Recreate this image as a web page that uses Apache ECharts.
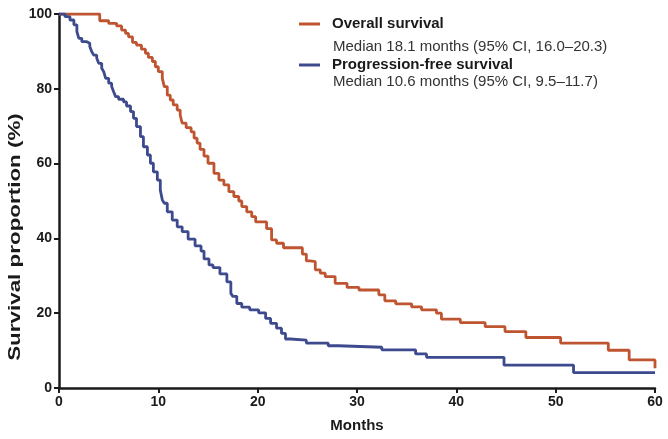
<!DOCTYPE html>
<html>
<head>
<meta charset="utf-8">
<script src="https://cdn.jsdelivr.net/npm/echarts@6/dist/echarts.min.js"></script>
<style>
  html, body { margin: 0; padding: 0; background: #fff; }
  #chart { width: 668px; height: 439px; }
</style>
</head>
<body>
<div id="chart"></div>
<script>
// Overall survival (Kaplan–Meier steps): month, survival %
const osMonths = [0, 4.1, 5.0, 5.8, 6.3, 6.7, 7.0, 7.4, 7.8, 8.3, 8.7, 9.0, 9.4, 9.7, 10.0, 10.4, 10.6, 10.9, 11.2, 11.5, 11.9, 12.2, 12.4, 12.8, 13.3, 13.6, 13.9, 14.2, 14.6, 15.0, 15.6, 16.1, 16.6, 17.1, 17.6, 18.1, 18.4, 18.9, 19.4, 19.8, 20.9, 21.4, 21.9, 22.6, 24.5, 24.9, 25.3, 25.8, 26.3, 26.8, 27.8, 29.0, 30.2, 32.2, 32.8, 33.9, 35.5, 36.5, 38.0, 38.5, 40.4, 42.9, 44.9, 47.0, 50.5, 55.3, 57.4, 60];
const osSurvival = [100, 98.2, 97.5, 96.8, 95.7, 94.8, 93.9, 92.4, 91.7, 90.6, 89.5, 88.4, 87.3, 85.9, 84.6, 82.8, 80.6, 78.3, 77.0, 75.7, 74.3, 73.0, 70.8, 69.6, 68.5, 66.8, 65.5, 63.8, 62.0, 60.1, 57.4, 55.6, 54.3, 52.5, 51.2, 50.0, 48.5, 47.1, 45.8, 44.4, 42.6, 39.6, 38.7, 37.5, 35.8, 34.0, 33.8, 31.6, 30.7, 29.8, 28.0, 26.9, 26.2, 24.9, 23.3, 22.5, 21.7, 20.9, 20.0, 18.4, 17.5, 16.4, 15.1, 13.5, 12.0, 10.1, 7.5, 5.3];

// Progression-free survival: month, survival %
const pfsMonths = [0, 0.6, 1.1, 1.5, 1.8, 2.0, 2.3, 2.8, 3.1, 3.3, 3.5, 3.8, 4.0, 4.3, 4.5, 4.7, 5.0, 5.3, 5.5, 5.7, 6.0, 6.5, 6.8, 7.2, 7.5, 7.8, 8.2, 8.5, 8.9, 9.2, 9.5, 9.9, 10.2, 10.4, 10.6, 10.9, 11.4, 11.9, 12.4, 13.0, 13.7, 14.3, 14.6, 15.1, 15.5, 16.2, 16.9, 17.3, 17.5, 17.9, 18.4, 19.2, 20.1, 20.8, 21.3, 21.9, 22.4, 22.8, 23.3, 24.9, 27.1, 28.1, 32.5, 35.9, 37.0, 44.8, 51.8, 60];
const pfsSurvival = [100, 99.3, 98.4, 97.1, 95.3, 93.5, 92.6, 92.2, 91.3, 89.9, 89.0, 88.2, 86.8, 85.5, 84.6, 82.8, 81.5, 80.6, 79.2, 77.9, 77.2, 76.5, 75.4, 73.9, 72.1, 69.9, 67.2, 64.5, 62.3, 60.1, 57.8, 55.6, 52.9, 50.3, 49.4, 47.1, 44.9, 43.1, 41.8, 39.8, 38.0, 36.6, 34.5, 32.9, 32.2, 30.5, 28.4, 25.3, 24.5, 22.6, 21.6, 20.9, 20.1, 18.6, 17.3, 16.0, 14.6, 13.1, 12.8, 12.0, 11.3, 10.9, 10.2, 9.1, 8.2, 6.1, 4.1, 4.1];

const seriesNames = ['Overall survival', 'Progression-free survival'];
const medianTexts = ['Median 18.1 months (95% CI, 16.0\u201320.3)', 'Median 10.6 months (95% CI, 9.5\u201311.7)'];
const xTicks = [0, 10, 20, 30, 40, 50, 60];
const yTicks = [0, 20, 40, 60, 80, 100];
const xTitle = 'Months';
const yTitle = 'Survival proportion (%)';

const toPairs = (xs, ys) => xs.map((x, i) => [x, ys[i]]);
const FONT = '"Liberation Sans", Arial, Helvetica, sans-serif';
const RED = '#BF5530';
const BLUE = '#3D4A8E';
const INK = '#1a1a1a';

const chart = echarts.init(document.getElementById('chart'), null, { renderer: 'canvas' });
chart.setOption({
  animation: false,
  backgroundColor: '#ffffff',
  textStyle: { fontFamily: FONT },
  grid: { left: 59, right: 13, top: 14, bottom: 51, containLabel: false, outerBoundsMode: 'none' },
  legend: {
    orient: 'vertical',
    left: 299,
    top: 16,
    padding: 0,
    itemWidth: 21,
    itemHeight: 3,
    itemGap: 25,
    icon: 'rect',
    selectedMode: false,
    data: seriesNames,
    textStyle: { fontFamily: FONT, fontSize: 15, fontWeight: 'bold', color: INK, lineHeight: 16, padding: [0, 0, 0, 7] }
  },
  graphic: [
    { type: 'text', x: 333, y: 46.5, silent: true, style: { text: medianTexts[0], font: '15px ' + FONT, fill: '#333', verticalAlign: 'middle', align: 'left' } },
    { type: 'text', x: 333, y: 82, silent: true, style: { text: medianTexts[1], font: '15px ' + FONT, fill: '#333', verticalAlign: 'middle', align: 'left' } },
    { type: 'text', x: 16, y: 237, rotation: Math.PI / 2, scaleX: 1.4, silent: true, style: { text: yTitle, font: 'bold 16px ' + FONT, fill: INK, align: 'center', verticalAlign: 'middle' } }
  ],
  xAxis: {
    type: 'value',
    min: xTicks[0],
    max: xTicks[xTicks.length - 1],
    interval: 10,
    name: xTitle,
    nameLocation: 'middle',
    nameGap: 30,
    nameTextStyle: { fontFamily: FONT, fontSize: 15, fontWeight: 'bold', color: INK },
    axisLine: { show: true, lineStyle: { color: INK, width: 2.5 } },
    axisTick: { show: true, inside: false, length: 5, lineStyle: { color: INK, width: 2 } },
    axisLabel: { margin: 7, fontFamily: FONT, fontSize: 14, fontWeight: 'bold', color: INK },
    splitLine: { show: false }
  },
  yAxis: {
    type: 'value',
    min: yTicks[0],
    max: yTicks[yTicks.length - 1],
    interval: 20,
    axisLine: { show: true, lineStyle: { color: INK, width: 2.5 } },
    axisTick: { show: true, inside: false, length: 5, lineStyle: { color: INK, width: 2 } },
    axisLabel: { margin: 7, fontFamily: FONT, fontSize: 14, fontWeight: 'bold', color: INK },
    splitLine: { show: false }
  },
  series: [
    {
      name: seriesNames[0], type: 'line', step: 'end', showSymbol: false, symbol: 'none',
      data: toPairs(osMonths, osSurvival), color: RED,
      lineStyle: { color: RED, width: 2.8 }, z: 3
    },
    {
      name: seriesNames[1], type: 'line', step: 'end', showSymbol: false, symbol: 'none',
      data: toPairs(pfsMonths, pfsSurvival), color: BLUE,
      lineStyle: { color: BLUE, width: 2.8 }, z: 4
    }
  ]
});
</script>
</body>
</html>
